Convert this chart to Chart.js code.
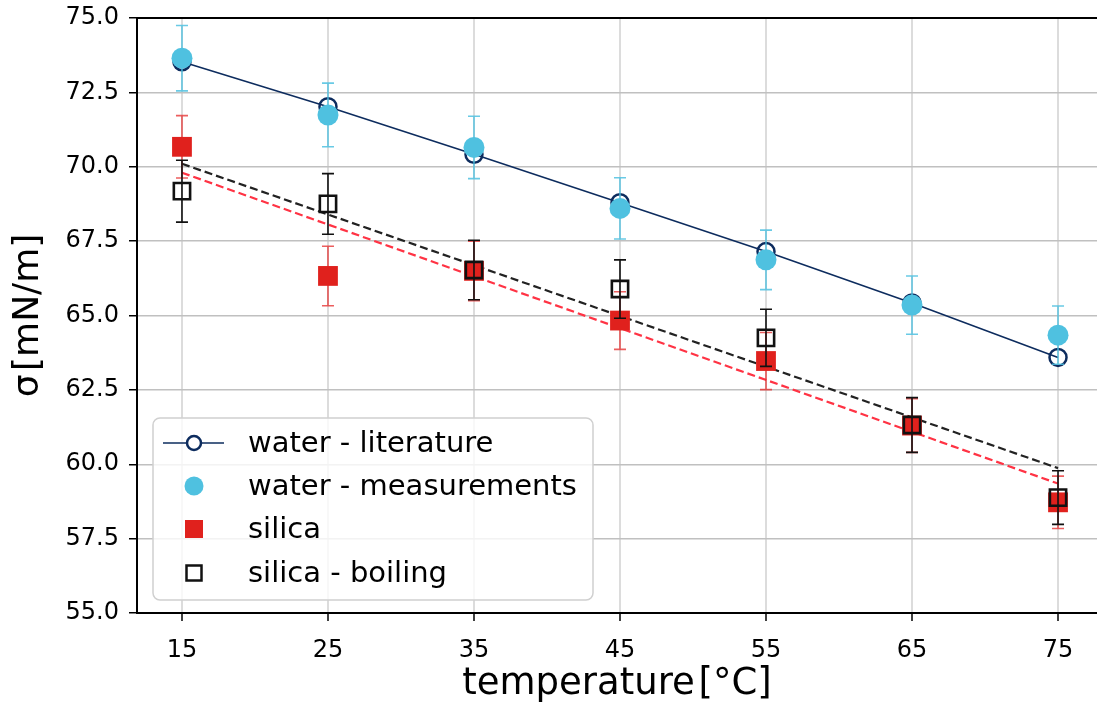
<!DOCTYPE html>
<html>
<head>
<meta charset="utf-8">
<script src="https://cdn.jsdelivr.net/npm/chart.js@4/dist/chart.umd.min.js"></script>
<style>
  html, body { margin: 0; padding: 0; background: #ffffff; overflow: hidden; }
  #wrap { position: relative; width: 1097px; height: 709px; }
</style>
</head>
<body>
<div id="wrap"><canvas id="c" width="1097" height="709"></canvas></div>
<script>
// ---- data ----
const temperatures = [15, 25, 35, 45, 55, 65, 75];
const xTickValues = [15, 25, 35, 45, 55, 65, 75];
const waterLiterature = [73.53, 72.02, 70.42, 68.79, 67.15, 65.42, 63.59];
const waterMeasured = [73.65, 71.74, 70.65, 68.60, 66.87, 65.35, 64.34];
const waterMeasuredErr = [1.10, 1.07, 1.05, 1.03, 1.00, 0.98, 0.98];
const silica = [70.67, 66.33, 66.50, 64.83, 63.47, 61.30, 58.72];
const silicaErr = [1.05, 1.00, 1.00, 0.97, 0.96, 0.90, 0.88];
const silicaBoiling = [69.18, 68.75, 66.53, 65.89, 64.25, 61.32, 58.88];
const silicaBoilingErr = [1.04, 1.02, 1.00, 0.98, 0.96, 0.92, 0.90];
const fitX = [15, 75];
const silicaFit = [69.80, 59.35];
const boilingFit = [70.10, 59.87];
const legendLabels = ['water - literature', 'water - measurements', 'silica', 'silica - boiling'];
const xRange = [11.92, 77.67];
const yRange = [55, 75];

const NAVY = '#0d2c5e', CYAN = '#4fc1e0', RED = '#e0211d', BLACK = '#111111';

const pts = (xs, ys) => xs.map((x, i) => ({x: x, y: ys[i]}));

Chart.defaults.font.family = 'DejaVu Sans';
Chart.defaults.color = '#000';

const errorBars = {
  1: {err: waterMeasuredErr, color: 'rgba(79,193,224,0.85)'},
  2: {err: silicaErr, color: 'rgba(230,40,40,0.75)'},
  3: {err: silicaBoilingErr, color: BLACK}
};

const errorBarPlugin = {
  id: 'errorBars',
  beforeDatasetDraw(chart, args) {
    const cfg = errorBars[args.index];
    if (!cfg) return;
    const ds = chart.data.datasets[args.index];
    const xs = chart.scales.x, ys = chart.scales.y, ctx = chart.ctx, a = chart.chartArea;
    ctx.save();
    ctx.beginPath();
    ctx.rect(a.left, a.top, a.right - a.left, a.bottom - a.top);
    ctx.clip();
    ctx.strokeStyle = cfg.color;
    ctx.lineWidth = 1.6;
    ds.data.forEach((p, i) => {
      const px = xs.getPixelForValue(p.x);
      const y1 = ys.getPixelForValue(p.y + cfg.err[i]);
      const y2 = ys.getPixelForValue(p.y - cfg.err[i]);
      ctx.beginPath();
      ctx.moveTo(px, y1); ctx.lineTo(px, y2);
      ctx.moveTo(px - 6, y1); ctx.lineTo(px + 6, y1);
      ctx.moveTo(px - 6, y2); ctx.lineTo(px + 6, y2);
      ctx.stroke();
    });
    ctx.restore();
  }
};

const framePlugin = {
  id: 'frame',
  afterDraw(chart) {
    const ctx = chart.ctx, a = chart.chartArea;
    ctx.save();
    // top spine
    ctx.strokeStyle = '#000';
    ctx.lineWidth = 2;
    ctx.beginPath();
    ctx.moveTo(a.left, a.top); ctx.lineTo(a.right, a.top);
    ctx.stroke();
    // legend box
    const bx = 153, by = 418, bw = 440, bh = 182, r = 7;
    ctx.beginPath();
    ctx.moveTo(bx + r, by);
    ctx.arcTo(bx + bw, by, bx + bw, by + bh, r);
    ctx.arcTo(bx + bw, by + bh, bx, by + bh, r);
    ctx.arcTo(bx, by + bh, bx, by, r);
    ctx.arcTo(bx, by, bx + bw, by, r);
    ctx.closePath();
    ctx.fillStyle = 'rgba(255,255,255,0.8)';
    ctx.fill();
    ctx.strokeStyle = '#d0d0d0';
    ctx.lineWidth = 1.5;
    ctx.stroke();
    const mx = 194, rowsY = [443, 486, 529, 573];
    // row 1: line with open circle
    ctx.strokeStyle = NAVY; ctx.lineWidth = 1.6;
    ctx.beginPath(); ctx.moveTo(163, rowsY[0]); ctx.lineTo(224, rowsY[0]); ctx.stroke();
    ctx.fillStyle = '#fff';
    ctx.lineWidth = 2.5;
    ctx.beginPath(); ctx.arc(mx, rowsY[0], 7, 0, Math.PI * 2); ctx.fill(); ctx.stroke();
    // row 2: cyan circle
    ctx.fillStyle = CYAN;
    ctx.beginPath(); ctx.arc(mx, rowsY[1], 9.5, 0, Math.PI * 2); ctx.fill();
    // row 3: red square
    ctx.fillStyle = RED;
    ctx.fillRect(mx - 9, rowsY[2] - 9, 18, 18);
    // row 4: open square
    ctx.strokeStyle = BLACK; ctx.lineWidth = 2.5;
    ctx.strokeRect(mx - 7.5, rowsY[3] - 7.5, 15, 15);
    // labels
    ctx.fillStyle = '#000';
    ctx.font = '29px "DejaVu Sans"';
    ctx.textBaseline = 'middle';
    ctx.textAlign = 'left';
    legendLabels.forEach((t, i) => ctx.fillText(t, 248, rowsY[i] + 1));
    ctx.restore();
  }
};

new Chart(document.getElementById('c'), {
  type: 'scatter',
  data: {
    datasets: [
      {
        label: legendLabels[0], data: pts(temperatures, waterLiterature), showLine: true,
        borderColor: NAVY, borderWidth: 1.6, pointStyle: 'circle', pointRadius: 8.5,
        pointBorderWidth: 2.5, pointBackgroundColor: 'rgba(0,0,0,0)', pointBorderColor: NAVY, order: 5
      },
      {
        label: legendLabels[1], data: pts(temperatures, waterMeasured),
        pointStyle: 'circle', pointRadius: 10.5, pointBorderWidth: 0,
        pointBackgroundColor: CYAN, pointBorderColor: CYAN, order: 4
      },
      {
        label: legendLabels[2], data: pts(temperatures, silica),
        pointStyle: 'rect', pointRadius: 14, pointBorderWidth: 0,
        pointBackgroundColor: RED, pointBorderColor: RED, order: 3
      },
      {
        label: legendLabels[3], data: pts(temperatures, silicaBoiling),
        pointStyle: 'rect', pointRadius: 11.5, pointBorderWidth: 2.6,
        pointBackgroundColor: 'rgba(0,0,0,0)', pointBorderColor: BLACK, order: 2
      },
      {
        label: 'silica fit', data: pts(fitX, silicaFit), showLine: true, pointRadius: 0,
        borderColor: '#ff3344', borderWidth: 2.2, borderDash: [8, 4], order: 7
      },
      {
        label: 'boiling fit', data: pts(fitX, boilingFit), showLine: true, pointRadius: 0,
        borderColor: '#222222', borderWidth: 2.2, borderDash: [8, 4], order: 6
      }
    ]
  },
  options: {
    responsive: false,
    animation: false,
    layout: { autoPadding: false, padding: { top: 18, right: 0, left: 0, bottom: 0 } },
    plugins: { legend: { display: false }, tooltip: { enabled: false } },
    scales: {
      x: {
        type: 'linear', min: xRange[0], max: xRange[1],
        afterBuildTicks: (s) => { s.ticks = xTickValues.map(v => ({value: v})); },
        afterFit: (s) => { s.height = 96; s.paddingLeft = 0; s.paddingRight = 0; },
        grid: { color: '#dcdcdc', lineWidth: 2, tickColor: '#000', tickLength: 8, tickWidth: 1.5 },
        border: { color: '#000', width: 2 },
        ticks: { font: { size: 24 }, padding: 15, color: '#000', maxRotation: 0 },
        title: { display: true, text: 'temperature\u200A[°C]', font: { size: 37 }, padding: { top: 0, bottom: 2 }, color: '#000' }
      },
      y: {
        type: 'linear', min: yRange[0], max: yRange[1],
        afterFit: (s) => { s.width = 137; s.paddingTop = 0; s.paddingBottom = 0; },
        grid: { color: '#c0c0c0', lineWidth: 1.5, tickColor: '#000', tickLength: 8, tickWidth: 1.5 },
        border: { color: '#000', width: 2 },
        ticks: { stepSize: 2.5, font: { size: 24 }, padding: 10, color: '#000', callback: (v) => v.toFixed(1) },
        title: { display: true, text: 'σ\u200A[mN/m]', font: { size: 36 }, padding: { top: 7, bottom: 0 }, color: '#000' }
      }
    }
  },
  plugins: [errorBarPlugin, framePlugin]
});
</script>
</body>
</html>
